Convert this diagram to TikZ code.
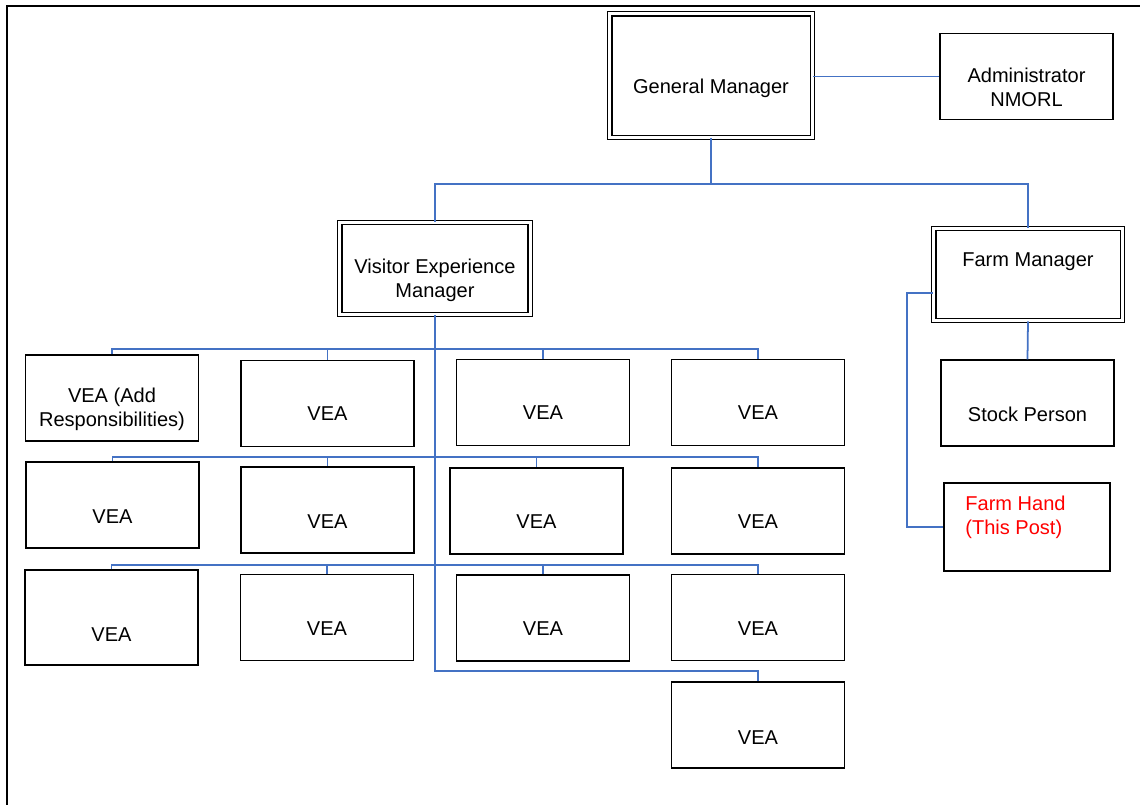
\documentclass[tikz,border=0pt]{standalone}
\usepackage{fontspec}
\setmainfont{Liberation Sans}
\usepackage{tikz}

\definecolor{linkblue}{RGB}{68,114,196}
\definecolor{posthand}{RGB}{255,0,0}

\tikzset{
  box/.style={draw, line width=0.8pt, inner sep=0pt, minimum width=3.46cm, minimum height=1.72cm},
  dbox/.style={draw, double, line width=0.9pt, double distance=1.6pt, inner sep=0pt},
  words/.style={font=\fontsize{11.4}{13.6}\selectfont, align=center},
  vea/.style={box, label={[words, yshift=#1]center:VEA}},
  link/.style={draw=linkblue, line width=1pt},
  trunk/.style={draw=linkblue, line width=1.7pt}
}

\begin{document}
\begin{tikzpicture}[x=0.02cm, y=-0.02cm]
\useasboundingbox (0,0) rectangle (1140,805);
\draw[line width=1.15pt] (7,805) -- (7,6) -- (1140,6);

\node[dbox, minimum width=4.06cm, minimum height=2.48cm, label={[words, yshift=-0.25cm]center:General Manager}] (gm) at (711,75.5) {};
\node[box, label={[words, yshift=-0.22cm]center:Administrator\\NMORL}] (adm) at (1026.5,76.5) {};
\node[dbox, minimum width=3.82cm, minimum height=1.84cm, label={[words, yshift=-0.23cm]center:Visitor Experience\\Manager}] (vem) at (435,268.5) {};
\node[dbox, minimum width=3.78cm, minimum height=1.84cm, label={[words, yshift=0.25cm]center:Farm Manager}] (fm) at (1028,274.5) {};
\node[box, label={[words, yshift=-0.22cm]center:Stock Person}] (stock) at (1027.5,403) {};
\node[box, minimum width=3.32cm, minimum height=1.76cm, label={[words, align=left, text=posthand, xshift=-0.23cm, yshift=0.19cm]center:Farm Hand\\(This Post)}] (hand) at (1027,527) {};

\node[box, label={[words, yshift=-0.23cm]center:VEA (Add\\Responsibilities)}] (v11) at (112,398) {};
\node[vea=-0.21cm] (v12) at (327.5,403.5) {};
\node[vea=-0.21cm] (v13) at (543,402.5) {};
\node[vea=-0.21cm] (v14) at (758,402.5) {};
\node[vea=-0.24cm] (v21) at (112.5,505) {};
\node[vea=-0.24cm] (v22) at (327.5,510) {};
\node[vea=-0.22cm] (v23) at (536.5,511) {};
\node[vea=-0.22cm] (v24) at (758,511) {};
\node[vea=-0.35cm, minimum height=1.9cm] (v31) at (111.5,617.5) {};
\node[vea=-0.23cm] (v32) at (327,617.5) {};
\node[vea=-0.22cm] (v33) at (543,618) {};
\node[vea=-0.22cm] (v34) at (758,617.5) {};
\node[vea=-0.26cm] (v44) at (758,725) {};

\coordinate (top) at (711,184);
\coordinate (r1) at (435,349);
\coordinate (r2) at (435,457);
\coordinate (r3) at (435,565);
\coordinate (r4) at (435,671);

\draw[link] (gm.east |- adm.west) -- (adm.west);
\draw[link] (gm.south) -- (top);
\draw[link] (vem.north) |- (top) -| (fm.north);
\draw[link] (fm.south) -- (stock.north);
\draw[link] ([yshift=-0.37cm]fm.west) -- ++(-0.51cm,0) |- (hand.west);

\draw[trunk] (vem.south) -- (r3);
\draw[link] (r3) -- (r4) -| (v44.north);
\draw[link] (v11.north) |- (r1) -| (v14.north);
\draw[link] (r1 -| v12.north) -- (v12.north);
\draw[link] (r1 -| v13.north) -- (v13.north);
\draw[link] (v21.north) |- (r2) -| (v24.north);
\draw[link] (r2 -| v22.north) -- (v22.north);
\draw[link] (r2 -| v23.north) -- (v23.north);
\draw[link] (v31.north) |- (r3) -| (v34.north);
\draw[link] (r3 -| v32.north) -- (v32.north);
\draw[link] (r3 -| v33.north) -- (v33.north);
\end{tikzpicture}
\end{document}
